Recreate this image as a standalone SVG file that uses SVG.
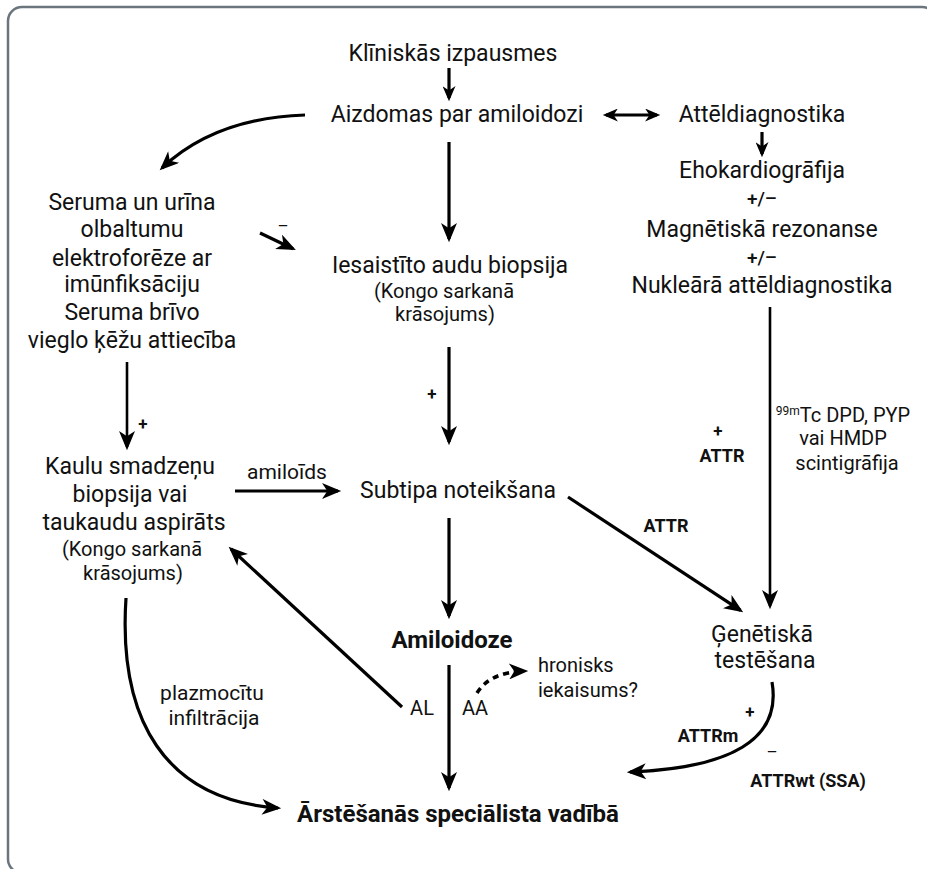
<svg xmlns="http://www.w3.org/2000/svg" width="927" height="869" viewBox="0 0 927 869">
<style>
text{font-family:Roboto,"Liberation Sans",sans-serif;fill:#111;text-anchor:middle}
.m{font-size:23px}
.s{font-size:20px}
.s21{font-size:21px}
.b{font-weight:bold}
.pm{font-size:17px}
.pmx{font-size:19px;font-weight:500}
.ln{fill:none;stroke:#000;stroke-width:3.2}
.thin{stroke-width:2.6}
.dash{stroke-dasharray:6 5;stroke-width:3.6}
</style>
<defs>
<marker id="ah" markerUnits="userSpaceOnUse" markerWidth="20" markerHeight="16" refX="15" refY="7.5" orient="auto" viewBox="0 0 18 15"><path d="M0,0 L18,7.5 L0,15 L5,7.5 z" fill="#000"/></marker>
<marker id="as" markerUnits="userSpaceOnUse" markerWidth="16" markerHeight="13" refX="11" refY="6" orient="auto-start-reverse" viewBox="0 0 14 12"><path d="M0,0 L14,6 L0,12 L4,6 z" fill="#000"/></marker>
</defs>
<rect width="927" height="869" fill="#fff"/>
<rect x="8" y="7" width="928" height="866" rx="14" fill="#fff" stroke="#6b757d" stroke-width="2.5"/>

<g id="connectors">
<path class="ln" d="M449,68 L449,98" marker-end="url(#as)"/>
<path class="ln" d="M606,115 L657,115" marker-start="url(#as)" marker-end="url(#as)"/>
<path class="ln" d="M762,132 L762,154" marker-end="url(#as)"/>
<path class="ln" d="M305,115 Q215,118 162,168" marker-end="url(#ah)"/>
<path class="ln" d="M260,233 L293,248.7" marker-end="url(#ah)"/>
<path class="ln" d="M449,142 L449,239" marker-end="url(#ah)"/>
<path class="ln thin" d="M127,362 L127,447" marker-end="url(#ah)"/>
<path class="ln" d="M449,347 L449,442" marker-end="url(#ah)"/>
<path class="ln" d="M235,491 L338,491" marker-end="url(#ah)"/>
<path class="ln" d="M449,518 L449,616" marker-end="url(#ah)"/>
<path class="ln" d="M449,665 L449,788" marker-end="url(#ah)"/>
<path class="ln" d="M402,707 L231,549" marker-end="url(#ah)"/>
<path class="ln dash" d="M477,693 Q490,672 525,671" marker-end="url(#ah)"/>
<path class="ln" d="M126,598 C118,720 165,800 278,808" marker-end="url(#ah)"/>
<path class="ln" d="M568,497 L740.5,610.4" marker-end="url(#ah)"/>
<path class="ln thin" d="M770,307 L770,606" marker-end="url(#ah)"/>
<path class="ln" d="M772,682 C782,740 730,768 630,772" marker-end="url(#ah)"/>
</g>

<g id="klin"><text class="m" x="453" y="61">Klīniskās izpausmes</text></g>
<g id="aizdomas"><text class="m" x="457" y="122">Aizdomas par amiloidozi</text></g>
<g id="atteldiag"><text class="m" x="762" y="122">Attēldiagnostika</text></g>
<g id="imaging">
<text class="m" x="762" y="178">Ehokardiogrāfija</text>
<text class="pmx" x="762" y="205">+/–</text>
<text class="m" x="762" y="237">Magnētiskā rezonanse</text>
<text class="pmx" x="762" y="264">+/–</text>
<text class="m" x="762" y="293">Nukleārā attēldiagnostika</text>
</g>
<g id="seruma">
<text class="m" x="132" y="210">Seruma un urīna</text>
<text class="m" x="132" y="237">olbaltumu</text>
<text class="m" x="132" y="266">elektroforēze ar</text>
<text class="m" x="132" y="292">imūnfiksāciju</text>
<text class="m" x="132" y="320">Seruma brīvo</text>
<text class="m" x="132" y="348">vieglo ķēžu attiecība</text>
</g>
<g id="iesaistito">
<text class="m" x="450" y="273">Iesaistīto audu biopsija</text>
<text class="s" x="444" y="298">(Kongo sarkanā</text>
<text class="s" x="445" y="321">krāsojums)</text>
</g>
<g id="kaulu">
<text class="m" x="130" y="474">Kaulu smadzeņu</text>
<text class="m" x="130" y="502">biopsija vai</text>
<text class="m" x="134" y="530">taukaudu aspirāts</text>
<text class="s" x="132" y="556">(Kongo sarkanā</text>
<text class="s" x="133" y="580">krāsojums)</text>
</g>
<g id="subtipa"><text class="m" x="458" y="498">Subtipa noteikšana</text></g>
<g id="amiloidoze"><text class="b" style="font-size:24px" x="452" y="648">Amiloidoze</text></g>
<g id="hronisks">
<text class="s" x="538" y="672" style="text-anchor:start">hronisks</text>
<text class="s" x="538" y="697" style="text-anchor:start">iekaisums?</text>
</g>
<g id="genetiska">
<text class="m" x="762" y="642">Ģenētiskā</text>
<text class="m" x="765" y="668">testēšana</text>
</g>
<g id="arstesana"><text class="b" style="font-size:24px" x="458" y="822">Ārstēšanās speciālista vadībā</text></g>

<g id="labels">
<text class="pm" x="283" y="232">–</text>
<text class="pm b" x="143" y="430">+</text>
<text class="pm b" x="432" y="400">+</text>
<text class="s21" x="287" y="479">amiloīds</text>
<text class="s" x="422" y="715">AL</text>
<text class="s" x="475" y="715">AA</text>
<text class="s21" x="212" y="700">plazmocītu</text>
<text class="s21" x="214" y="725">infiltrācija</text>
<text class="b" style="font-size:18px" x="666" y="532">ATTR</text>
<text class="pm b" x="718" y="437">+</text>
<text class="b" style="font-size:18px" x="722" y="462">ATTR</text>
<text class="s" x="843" y="422"><tspan style="font-size:12px" dy="-7">99m</tspan><tspan dy="7">Tc DPD, PYP</tspan></text>
<text class="s" x="843" y="445">vai HMDP</text>
<text class="s" x="847" y="470">scintigrāfija</text>
<text class="pm b" x="750" y="718">+</text>
<text class="b" style="font-size:18px" x="708" y="742">ATTRm</text>
<text class="pm" x="772" y="758">–</text>
<text class="b" style="font-size:18px" x="808" y="787">ATTRwt (SSA)</text>
</g>
</svg>
